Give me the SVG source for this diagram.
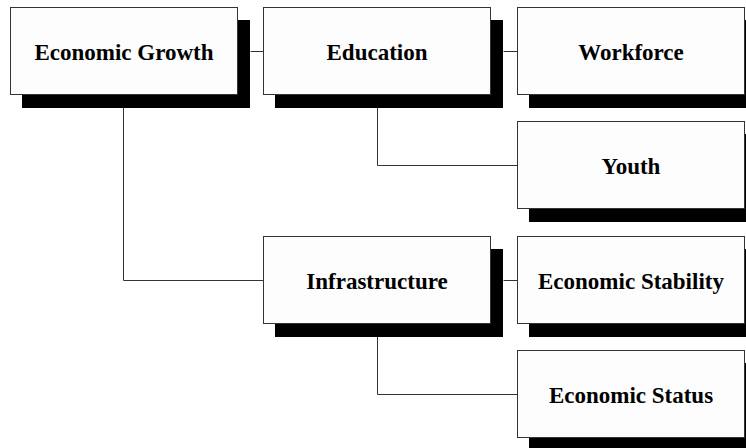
<svg xmlns="http://www.w3.org/2000/svg" width="746" height="448" viewBox="0 0 746 448">
<style>
.sh{fill:#000}
.bx{fill:#fdfdfd;stroke:#333;stroke-width:1}
.t{font-family:"Liberation Serif","Times New Roman",serif;font-weight:bold;font-size:23px;fill:#000;text-anchor:middle}
.c{fill:none;stroke:#333;stroke-width:1}
</style>
<rect width="746" height="448" fill="#fff"/>
<g id="connectors">
<path class="c" d="M250.5 51.5H263.5"/>
<path class="c" d="M503.5 51.5H517.5"/>
<path class="c" d="M377.5 108V165.5H517.5"/>
<path class="c" d="M123.5 108V280.5H263.5"/>
<path class="c" d="M503.5 280.5H517.5"/>
<path class="c" d="M377.5 336V394.5H517.5"/>
</g>
<g id="economic-growth">
<rect class="sh" x="22" y="20" width="228" height="88"/>
<rect class="bx" x="10.5" y="7.5" width="227" height="87"/>
<text class="t" x="124" y="59.5">Economic Growth</text>
</g>
<g id="education">
<rect class="sh" x="275" y="20" width="228" height="88"/>
<rect class="bx" x="263.5" y="7.5" width="227" height="87"/>
<text class="t" x="377" y="59.5">Education</text>
</g>
<g id="workforce">
<rect class="sh" x="529" y="20" width="228" height="88"/>
<rect class="bx" x="517.5" y="7.5" width="227" height="87"/>
<text class="t" x="631" y="59.5">Workforce</text>
</g>
<g id="youth">
<rect class="sh" x="529" y="134" width="228" height="88"/>
<rect class="bx" x="517.5" y="121.5" width="227" height="87"/>
<text class="t" x="631" y="173.5">Youth</text>
</g>
<g id="infrastructure">
<rect class="sh" x="275" y="249" width="228" height="88"/>
<rect class="bx" x="263.5" y="236.5" width="227" height="87"/>
<text class="t" x="377" y="288.5">Infrastructure</text>
</g>
<g id="economic-stability">
<rect class="sh" x="529" y="249" width="228" height="88"/>
<rect class="bx" x="517.5" y="236.5" width="227" height="87"/>
<text class="t" x="631" y="288.5">Economic Stability</text>
</g>
<g id="economic-status">
<rect class="sh" x="529" y="363" width="228" height="88"/>
<rect class="bx" x="517.5" y="350.5" width="227" height="87"/>
<text class="t" x="631" y="402.5">Economic Status</text>
</g>
</svg>
